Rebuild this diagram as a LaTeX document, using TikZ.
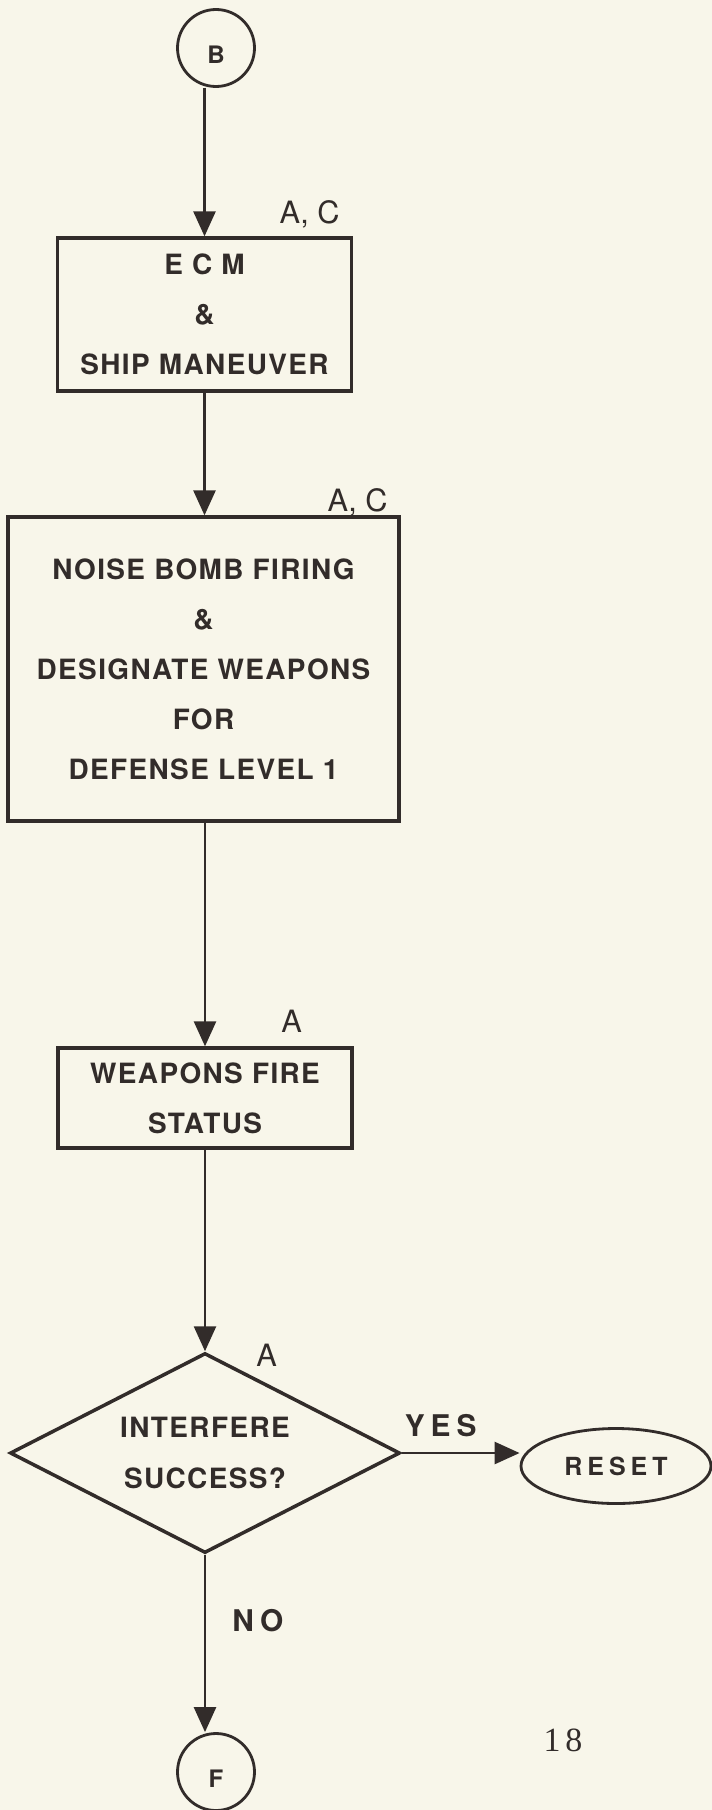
\documentclass[tikz,border=0pt]{standalone}
\usepackage{fontspec}
\setsansfont{TeX Gyre Heros}
\newfontfamily\boxfont[LetterSpace=5]{TeX Gyre Heros}
\newfontfamily\widefont[LetterSpace=20]{TeX Gyre Heros}
\newfontfamily\pagefont{Liberation Serif}
\usetikzlibrary{shapes.geometric, arrows.meta}
\definecolor{paper}{RGB}{248,246,234}
\definecolor{ink}{RGB}{50,44,42}

\begin{document}
\begin{tikzpicture}[
    color=ink,
    procbox/.style={
      rectangle, draw=ink, line width=1.9pt, inner sep=0pt, align=center,
      font=\boxfont\bfseries\fontsize{15.9}{28.45}\selectfont
    },
    decision/.style={
      diamond, draw=ink, line width=2pt, inner sep=0pt, aspect=1.95,
      minimum width=7.8cm, minimum height=4cm, align=center,
      font=\boxfont\bfseries\fontsize{15.9}{29.5}\selectfont
    },
    terminal/.style={
      ellipse, draw=ink, line width=1.6pt, minimum width=3.8cm, minimum height=1.5cm,
      inner sep=0pt, font=\widefont\bfseries\fontsize{14.2}{17}\selectfont
    },
    connector/.style={
      circle, draw=ink, line width=1.6pt, minimum size=1.54cm, inner sep=0pt,
      text height=0.62cm, text depth=0pt, font=\sffamily\bfseries\fontsize{13.7}{16}\selectfont
    },
    tag/.style={inner sep=0pt, text depth=0pt, font=\sffamily\fontsize{17.5}{20}\selectfont},
    answer/.style={inner sep=0pt, font=\widefont\bfseries\fontsize{17}{20}\selectfont},
    flow/.style={-{Triangle[length=0.5cm, width=0.44cm]}, line width=1.5pt},
]

% ===== PAGE =====
\fill[paper] (0,0) rectangle (14.24,-36.2);
\useasboundingbox (0,0) rectangle (14.24,-36.2);

% ===== FLOW BLOCKS =====
\node[connector] (b) at (4.32, -0.96) {B};

\node[procbox, minimum width=5.88cm, minimum height=3.06cm] (ecm) at (4.09, -6.29)
  {E C M\\\&\\SHIP MANEUVER};
\node[tag, anchor=south east] (ecmtag) at (6.80, -4.48) {A, C};

\node[procbox, minimum width=7.82cm, minimum height=6.08cm] (noise) at (4.07, -13.38)
  {NOISE BOMB FIRING\\\&\\DESIGNATE WEAPONS\\FOR\\DEFENSE LEVEL 1};
\node[tag, anchor=south east] (noisetag) at (7.76, -10.24) {A, C};

\node[procbox, minimum width=5.88cm, minimum height=2.0cm] (fire) at (4.10, -21.96)
  {WEAPONS FIRE\\STATUS};
\node[tag, anchor=south west] (firetag) at (5.62, -20.66) {A};

\node[decision] (dec) at (4.10, -29.06) {INTERFERE\\SUCCESS?};
\node[tag, anchor=south west] (dectag) at (5.12, -27.34) {A};

\node[terminal] (reset) at (12.32, -29.32) {RESET};

\node[connector] (f) at (4.32, -35.44) {F};

% ===== PAGE NUMBER =====
\node[font=\pagefont\fontsize{19.3}{22}\selectfont] (pagenum) at (11.26, -34.80) {1\kern0.1cm 8};

% ===== CONNECTORS =====
\draw[flow] (b.south -| ecm.north) -- (ecm.north);
\draw[flow] (ecm.south) -- (ecm.south |- noise.north);
\draw[flow] (noise.south -| fire.north) -- (fire.north);
\draw[flow] (fire.south) -- (dec.north);
\draw[flow] (dec.east) -- (dec.east -| reset.west)
  node[answer, pos=0.33, above=0.3cm] {YES};
\draw[flow] (dec.south) -- (dec.south |- f.north)
  node[answer, pos=0.37, right=0.52cm] {NO};

\end{tikzpicture}
\end{document}
